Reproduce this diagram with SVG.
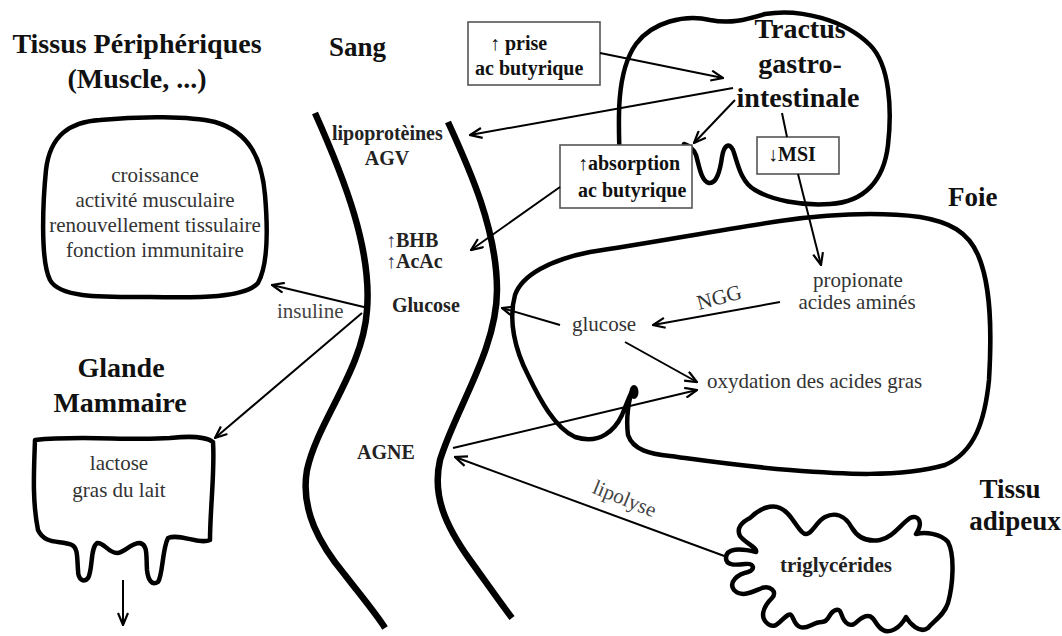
<svg xmlns="http://www.w3.org/2000/svg" width="1062" height="636" viewBox="0 0 1062 636">
<style>
text{font-family:'Liberation Serif','Times New Roman','DejaVu Serif',serif}
.title{font-weight:bold;font-size:28px;fill:#111}
.lbl{font-weight:bold;font-size:20px;fill:#222}
.bx{font-weight:bold;font-size:20px;fill:#111}
.txt{font-size:21px;fill:#333}
.organ{fill:none;stroke:#000;stroke-width:4.5;stroke-linejoin:round;stroke-linecap:round}
.vessel{fill:none;stroke:#000;stroke-width:6.5;stroke-linecap:butt}
.box{fill:#fff;stroke:#555;stroke-width:1.6}
.arr{fill:none;stroke:#000;stroke-width:2;marker-end:url(#ah)}
.ln{fill:none;stroke:#000;stroke-width:2}
</style>
<defs>
<marker id="ah" viewBox="0 0 14 12" refX="13" refY="6" markerWidth="14" markerHeight="12" markerUnits="userSpaceOnUse" orient="auto">
<path d="M1,1 L13,6 L1,11" fill="none" stroke="#000" stroke-width="2.2" stroke-linejoin="miter"/>
</marker>
</defs>
<rect width="1062" height="636" fill="#fff"/>

<g id="sang">
<path class="vessel" d="M315,113 C345,180 372,250 367,310 C363,370 318,420 307,470 C300,510 320,545 345,575 C362,597 377,615 385,628"/>
<path class="vessel" d="M448,122 C470,170 497,230 497,290 C497,350 455,410 440,460 C432,495 445,525 470,560 C488,585 502,605 512,618"/>
<text class="title" x="329" y="56" style="font-size:27px">Sang</text>
<text class="lbl" x="332" y="140">lipoprotèines</text>
<text class="lbl" x="387" y="165" text-anchor="middle">AGV</text>
<text class="lbl" x="386" y="247"><tspan style="font-weight:normal;fill:#335">↑</tspan>BHB</text>
<text class="lbl" x="386" y="268"><tspan style="font-weight:normal;fill:#335">↑</tspan>AcAc</text>
<text class="lbl" x="392" y="312">Glucose</text>
<text class="lbl" x="357" y="459">AGNE</text>
</g>

<g id="tissus">
<text class="title" x="137" y="53" text-anchor="middle">Tissus Périphériques</text>
<text class="title" x="137" y="88" text-anchor="middle">(Muscle, ...)</text>
<path class="organ" d="M100,120 C140,116 190,116 215,122 C250,132 262,160 265,195 C268,230 268,265 258,283 C245,298 200,298 150,297 C100,297 60,298 50,280 C40,260 43,200 46,170 C50,135 70,122 100,120 Z"/>
<text class="txt" x="155" y="182" text-anchor="middle">croissance</text>
<text class="txt" x="155" y="207" text-anchor="middle">activité musculaire</text>
<text class="txt" x="155" y="232" text-anchor="middle">renouvellement tissulaire</text>
<text class="txt" x="155" y="257" text-anchor="middle">fonction immunitaire</text>
</g>

<g id="mammaire">
<text class="title" x="121" y="377" text-anchor="middle">Glande</text>
<text class="title" x="120" y="412" text-anchor="middle">Mammaire</text>
<path class="organ" d="M35,440 C80,435 130,441 170,438 C190,436 205,436 213,442 C215,470 210,510 210,540 C200,545 180,533 168,538 C162,550 163,575 158,582 C152,586 148,580 147,570 C146,555 148,545 140,543 C130,543 125,553 117,553 C108,553 104,542 97,543 C90,548 93,570 88,578 C84,583 78,580 78,570 C77,558 78,548 72,545 C60,540 45,545 38,530 C32,500 34,470 35,440 Z"/>
<text class="txt" x="119" y="470" text-anchor="middle">lactose</text>
<text class="txt" x="119" y="497" text-anchor="middle">gras du lait</text>
</g>

<g id="tractus">
<path class="organ" d="M620,165 C618,120 616,72 636,44 C652,22 685,14 710,20 C730,24 745,20 765,14 C800,8 845,20 870,45 C890,65 892,110 888,145 C884,180 865,202 830,204 C800,206 772,200 755,190 C740,182 737,160 733,150 C729,142 724,145 722,157 C720,172 716,184 709,183 C701,181 699,165 696,155 C694,150 690,146 684,144"/>
<text class="title" x="800" y="38" text-anchor="middle">Tractus</text>
<text class="title" x="800" y="73" text-anchor="middle">gastro-</text>
<text class="title" x="798" y="107" text-anchor="middle">intestinale</text>
</g>

<g id="prise">
<rect class="box" x="468" y="22" width="132" height="63"/>
<text class="bx" x="490" y="50">↑ prise</text>
<text class="bx" x="475" y="75">ac butyrique</text>
</g>

<g id="absorption">
<rect class="box" x="560" y="145" width="132" height="63"/>
<text class="bx" x="578" y="170">↑absorption</text>
<text class="bx" x="578" y="197">ac butyrique</text>
</g>

<g id="msi">
<rect class="box" x="757" y="137" width="82" height="37"/>
<text class="bx" x="768" y="161">↓MSI</text>
</g>

<g id="foie">
<text class="title" x="948" y="206" style="font-size:27px">Foie</text>
<path class="organ" d="M633,389 C628,400 626,420 628,435 C633,450 650,454 670,456 C700,460 740,466 790,470 C840,474 900,478 945,465 C975,452 985,420 989,380 C992,330 991,285 978,255 C968,232 950,222 920,217 C880,212 830,214 780,221 C720,230 650,243 590,252 C550,260 522,275 515,295 C508,320 515,350 528,375 C540,400 555,428 575,437 C600,445 615,430 622,415 C626,405 630,395 633,389 Z"/>
<ellipse cx="634" cy="392" rx="4.5" ry="7" fill="#000"/>
<text class="txt" x="858" y="287" text-anchor="middle">propionate</text>
<text class="txt" x="857" y="309" text-anchor="middle">acides aminés</text>
<text class="txt" x="572" y="331">glucose</text>
<text class="txt" x="707" y="388">oxydation des acides gras</text>
<text class="txt" x="721" y="304" text-anchor="middle" transform="rotate(-15 721 304)">NGG</text>
</g>

<g id="adipeux">
<text class="title" x="1010" y="498" text-anchor="middle" style="font-size:27px">Tissu</text>
<text class="title" x="1015" y="530" text-anchor="middle" style="font-size:27px">adipeux</text>
<path class="organ" d="M750,518 C760,508 772,504 780,508 C790,512 795,525 802,532 C810,540 815,522 825,517 C835,512 845,515 852,528 C858,538 868,542 880,540 C892,538 900,525 910,518 C918,514 924,522 916,534 C925,532 940,533 948,542 C955,555 953,585 948,603 C944,615 935,620 928,628 C920,634 910,624 906,617 C900,628 890,634 883,630 C875,626 875,616 868,616 C858,616 856,628 848,624 C840,620 843,608 836,610 C828,612 830,622 822,622 C812,622 808,630 800,627 C792,624 794,612 788,615 C780,620 776,630 768,624 C760,618 762,608 772,598 C778,592 770,585 762,588 C752,592 742,598 734,590 C728,582 738,574 748,572 C755,570 755,563 745,564 C736,565 726,566 726,558 C726,548 740,548 756,552 C758,548 745,543 740,536 C736,528 742,522 750,518 Z"/>
<text class="lbl" x="836" y="572" text-anchor="middle" style="font-size:21px">triglycérides</text>
</g>

<g id="connecteurs">
<line class="arr" x1="600" y1="53" x2="723" y2="78"/>
<line class="arr" x1="733" y1="88" x2="470" y2="135"/>
<line class="arr" x1="735" y1="100" x2="694" y2="143"/>
<line class="arr" x1="560" y1="187" x2="471" y2="250"/>
<line class="ln" x1="782" y1="113" x2="787" y2="137"/>
<line class="arr" x1="798" y1="174" x2="821" y2="265"/>
<line class="arr" x1="368" y1="308" x2="272" y2="285"/>
<line class="arr" x1="362" y1="313" x2="215" y2="438"/>
<line class="arr" x1="560" y1="325" x2="502" y2="308"/>
<line class="arr" x1="780" y1="302" x2="653" y2="325"/>
<line class="arr" x1="625" y1="342" x2="697" y2="382"/>
<line class="arr" x1="453" y1="448" x2="697" y2="390"/>
<line class="arr" x1="727" y1="557" x2="455" y2="457"/>
<line class="arr" x1="123" y1="580" x2="123" y2="625"/>
<text class="txt" x="622" y="505" text-anchor="middle" transform="rotate(22 622 505)" style="fill:#444">lipolyse</text>
<text class="txt" x="277" y="318" style="fill:#444">insuline</text>
</g>
</svg>
